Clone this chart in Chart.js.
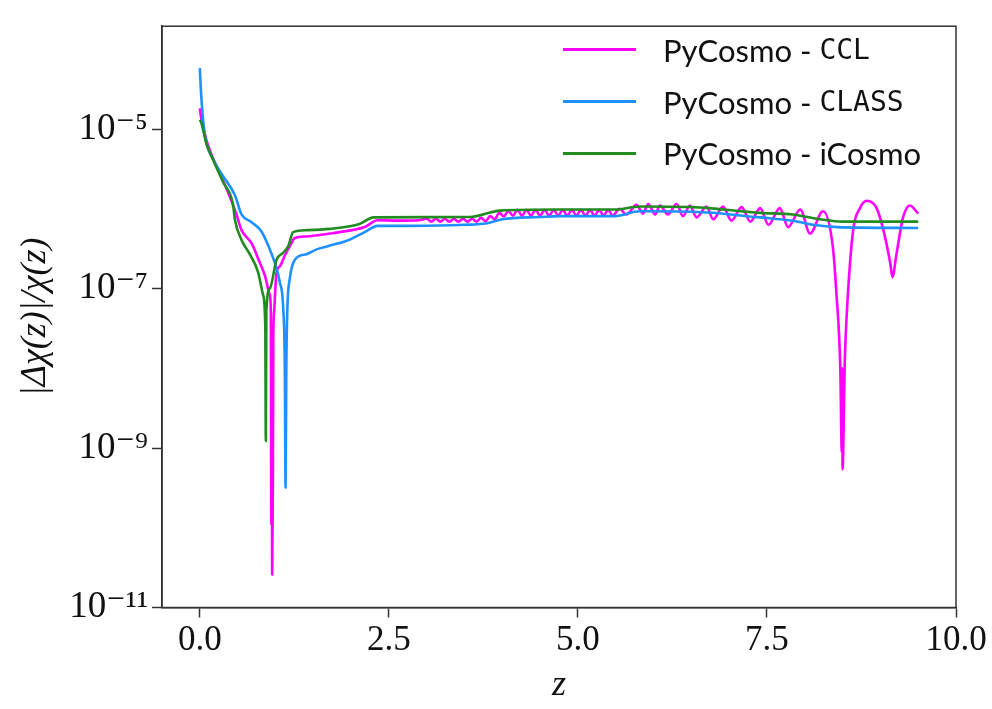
<!DOCTYPE html><html lang="en">
<head>
  <meta charset="UTF-8" />
  <title>PyCosmo comoving distance comparison</title>
  <script src="https://cdn.jsdelivr.net/npm/chart.js"></script>
  <style>
    * { margin: 0; padding: 0; box-sizing: border-box; }
    body { background: #fff; }
    #wrap { position: relative; width: 992px; height: 709px; }
    #legend {
      position: absolute; left: 563px; top: 24px;
      font-family: 'Lato', sans-serif; font-size: 31px; color: #111;
    }
    #legend .row { display: flex; align-items: center; height: 51.7px; white-space: pre; }
    #legend .swatch { width: 73px; height: 2.8px; margin-right: 27px; }
    #legend .tt { font-family: 'DejaVu Sans Mono', monospace; font-size: 28px; }
  </style>
</head>
<body>
  <div id="wrap">
    <canvas id="chart" width="992" height="709"></canvas>
    <div id="legend"></div>
  </div>
  <script>
    // x tick values and y (log) tick values
    const xTicks = [0, 2.5, 5, 7.5, 10];
    const yTicks = [1e-11, 1e-9, 1e-7, 1e-5];
    const yTickLabels = ['10⁻¹¹', '10⁻⁹', '10⁻⁷', '10⁻⁵'];

    // PyCosmo - CCL
    const zCCL = [0.0, 0.022, 0.088, 0.22, 0.353, 0.485, 0.552, 0.684, 0.794, 0.86, 0.926, 0.939, 0.946, 0.952, 0.957, 0.966, 0.972, 0.983,
      1.015, 1.058, 1.124, 1.19, 1.257, 1.41, 1.72, 1.85, 2.18, 2.35, 2.6, 2.9,
      3.0, 3.06, 3.12, 3.18, 3.24, 3.3, 3.36, 3.42, 3.48, 3.54, 3.6, 3.66, 3.72, 3.78, 3.84, 3.9, 3.96,
      4.02, 4.08, 4.14, 4.2, 4.26, 4.32, 4.38, 4.44, 4.5, 4.56, 4.62, 4.68, 4.74, 4.8, 4.86, 4.92, 4.98,
      5.04, 5.1, 5.16, 5.22, 5.28, 5.34, 5.4, 5.46, 5.55, 5.64, 5.776, 5.86, 5.93, 6.02, 6.085, 6.19, 6.305, 6.39, 6.481,
      6.57, 6.7, 6.79, 6.92, 7.03, 7.165, 7.28, 7.41, 7.52, 7.67, 7.78, 7.94, 8.07, 8.24, 8.37, 8.42, 8.47, 8.49, 8.495,
      8.5, 8.53, 8.57, 8.64, 8.73, 8.82, 8.95, 9.04, 9.13, 9.16, 9.21, 9.3, 9.39, 9.5];
    const dCCL = [1.82e-5, 1.3e-5, 7.2e-6, 3.4e-6, 1.8e-6, 8.5e-7, 5.4e-7, 3.7e-7, 2.1e-7, 1.46e-7, 8.3e-8, 5.2e-8, 1.1e-10, 1.7e-8, 2.6e-11, 3.5e-10, 2.3e-8, 5.2e-8,
      1.6e-7, 1.9e-7, 2.6e-7, 3.4e-7, 4.3e-7, 4.5e-7, 4.9e-7, 5.1e-7, 5.9e-7, 7.2e-7, 7.1e-7, 7.2e-7,
      7.5e-7, 6.9e-7, 7.5e-7, 6.9e-7, 7.5e-7, 6.9e-7, 7.5e-7, 6.9e-7, 7.5e-7, 6.9e-7, 7.5e-7, 6.9e-7, 7.7e-7, 7.0e-7, 8.1e-7, 7.4e-7, 8.9e-7,
      8.0e-7, 9.4e-7, 8.2e-7, 9.7e-7, 8.2e-7, 9.7e-7, 8.2e-7, 9.7e-7, 8.2e-7, 9.7e-7, 8.2e-7, 9.7e-7, 8.2e-7, 9.7e-7, 8.2e-7, 9.7e-7, 8.2e-7,
      9.7e-7, 8.2e-7, 9.7e-7, 8.2e-7, 9.7e-7, 8.2e-7, 9.7e-7, 8.2e-7, 1.0e-6, 8.5e-7, 1.12e-6, 8.7e-7, 1.15e-6, 8.5e-7, 1.1e-6, 8.5e-7, 1.15e-6, 8.1e-7, 1.1e-6,
      7.8e-7, 1.07e-6, 7.4e-7, 1.07e-6, 7.1e-7, 1.05e-6, 6.9e-7, 1.02e-6, 6.3e-7, 1.02e-6, 5.9e-7, 9.8e-7, 4.9e-7, 9.3e-7, 3.4e-7, 8.3e-8, 1.0e-8, 8.9e-10, 1.0e-8,
      5.4e-10, 1.3e-8, 8.3e-8, 5.4e-7, 1.02e-6, 1.26e-6, 1.02e-6, 5.4e-7, 2.1e-7, 1.39e-7, 2.6e-7, 7.8e-7, 1.1e-6, 8.7e-7];

    // PyCosmo - CLASS
    const zCLASS = [0.0, 0.02, 0.066, 0.176, 0.304, 0.463, 0.552, 0.684, 0.816, 0.926, 0.992, 1.058, 1.102, 1.124, 1.134, 1.144, 1.157,
      1.19, 1.257, 1.411, 1.544, 1.693, 1.98, 2.18, 2.35, 2.8, 3.5, 3.8, 4.0, 4.5, 4.76, 5.49, 5.82, 6.52, 7.41, 7.84, 8.11, 8.43, 9.5];
    const dCLASS = [5.8e-5, 2.5e-5, 8.6e-6, 4.2e-6, 2.6e-6, 1.49e-6, 8.5e-7, 6.8e-7, 5.2e-7, 3.1e-7, 2.1e-7, 1.2e-7, 5.8e-8, 1.0e-8, 3.2e-10, 1.0e-8, 5.2e-8,
      1.33e-7, 2.3e-7, 2.7e-7, 3.1e-7, 3.4e-7, 4.1e-7, 5.1e-7, 6.1e-7, 6.1e-7, 6.3e-7, 6.6e-7, 7.4e-7, 7.9e-7, 8.1e-7, 8.1e-7, 9.3e-7, 9.2e-7, 7.8e-7, 7.1e-7, 6.3e-7, 5.9e-7, 5.75e-7];

    // PyCosmo - iCosmo
    const zICOSMO = [0.0, 0.02, 0.088, 0.176, 0.309, 0.44, 0.463, 0.55, 0.661, 0.771, 0.837, 0.866, 0.873, 0.88, 0.926, 1.015, 1.1, 1.17, 1.234,
      1.41, 1.72, 2.1, 2.3, 3.57, 3.97, 4.76, 5.49, 5.82, 6.52, 7.41, 7.84, 8.2, 8.5, 9.5];
    const dICOSMO = [1.3e-5, 1.2e-5, 6.5e-6, 4.1e-6, 2.15e-6, 1.12e-6, 7.4e-7, 4.1e-7, 2.7e-7, 1.6e-7, 8.3e-8, 3.3e-8, 1.23e-9, 5.2e-8, 1.0e-7, 2.3e-7, 2.8e-7, 3.4e-7, 5.1e-7,
      5.4e-7, 5.6e-7, 6.4e-7, 7.8e-7, 7.9e-7, 9.5e-7, 9.8e-7, 9.8e-7, 1.07e-6, 1.05e-6, 8.9e-7, 8.5e-7, 7.4e-7, 6.9e-7, 6.9e-7];

    const series = [
      { name: 'PyCosmo - ', tt: 'CCL', z: zCCL, d: dCCL, color: '#ff00ff', order: 3 },
      { name: 'PyCosmo - ', tt: 'CLASS', z: zCLASS, d: dCLASS, color: '#1e90ff', order: 2 },
      { name: 'PyCosmo - iCosmo', tt: '', z: zICOSMO, d: dICOSMO, color: '#228b22', order: 1 }
    ];

    // html legend (mixed fonts like the latex one)
    const legend = document.getElementById('legend');
    series.forEach(s => {
      const row = document.createElement('div');
      row.className = 'row';
      row.innerHTML = '<span class="swatch" style="background:' + s.color + '"></span>' +
        '<span>' + s.name + '</span>' + (s.tt ? '<span class="tt">' + s.tt + '</span>' : '');
      legend.appendChild(row);
    });

    const frame = {
      id: 'frame',
      afterDraw(chart) {
        const a = chart.chartArea, c = chart.ctx;
        c.save();
        c.strokeStyle = '#333';
        c.lineWidth = 1.5;
        c.strokeRect(a.left, a.top, a.right - a.left, a.bottom - a.top);
        c.restore();
      }
    };

    const serif = "'Liberation Serif', 'DejaVu Serif', serif";

    new Chart(document.getElementById('chart'), {
      type: 'line',
      data: {
        datasets: series.map(s => ({
          label: s.name + s.tt,
          data: s.z.map((z, i) => ({ x: z, y: s.d[i] })),
          borderColor: s.color,
          borderWidth: 2.6,
          pointRadius: 0,
          cubicInterpolationMode: 'monotone',
          order: s.order
        }))
      },
      options: {
        responsive: false,
        animation: false,
        devicePixelRatio: 1,
        layout: { padding: { top: 5, right: 36, left: 0, bottom: 0 } },
        plugins: { legend: { display: false }, tooltip: { enabled: false } },
        scales: {
          x: {
            type: 'linear',
            min: -0.5, max: 10,
            afterBuildTicks: s => { s.ticks = xTicks.map(v => ({ value: v })); },
            afterFit: s => { s.height = 101.5; },
            ticks: { font: { family: serif, size: 35 }, color: '#111', padding: 2, maxRotation: 0,
              callback: v => v.toFixed(1) },
            grid: { drawOnChartArea: false, drawTicks: true, tickLength: 10, tickColor: '#333', tickWidth: 1.5 },
            border: { display: true, color: '#333', width: 1.5 },
            title: { display: true, text: 'z', font: { family: serif, size: 36, style: 'italic' }, color: '#111',
              padding: { top: 0, bottom: 2 } }
          },
          y: {
            type: 'logarithmic',
            min: 1e-11, max: 1.95e-4,
            afterBuildTicks: s => { s.ticks = yTicks.map(v => ({ value: v })); },
            afterFit: s => { s.width = 162; },
            ticks: { font: { family: serif, size: 37 }, color: '#111', padding: 4,
              callback: v => yTickLabels[yTicks.findIndex(t => Math.abs(Math.log10(t) - Math.log10(v)) < 0.01)] },
            grid: { drawOnChartArea: false, drawTicks: true, tickLength: 10, tickColor: '#333', tickWidth: 1.5 },
            border: { display: true, color: '#333', width: 1.5 },
            title: { display: true, text: '|Δχ(z)|/χ(z)', font: { family: serif, size: 36, style: 'italic' }, color: '#111',
              padding: { top: 14, bottom: 0 } }
          }
        }
      },
      plugins: [frame]
    });
  </script>
</body>
</html>
